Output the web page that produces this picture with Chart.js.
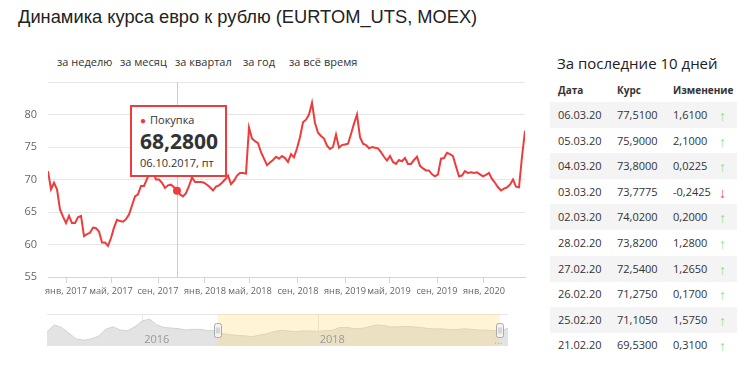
<!DOCTYPE html>
<html><head><meta charset="utf-8">
<script src="https://cdn.jsdelivr.net/npm/chart.js@4.4.1/dist/chart.umd.min.js"></script>
<style>
html,body{margin:0;padding:0;background:#fff;}
body{width:750px;height:378px;position:relative;overflow:hidden;font-family:"Open Sans",Arial,sans-serif;color:#333;}
#title{position:absolute;left:18px;top:6px;font-family:"Liberation Sans",Arial,sans-serif;font-size:18.3px;color:#222;white-space:nowrap;}
.per{position:absolute;top:54px;font-size:11px;color:#333;white-space:nowrap;}
#mainWrap{position:absolute;left:0;top:0;width:540px;height:300px;}
#navWrap{position:absolute;left:0;top:310px;width:540px;height:40px;}
#tip{position:absolute;background:#fff;border:2px solid #ee3b3b;padding:5px 7px 4px 8px;white-space:nowrap;box-sizing:border-box;}
#tip .nm{font-size:11px;color:#333;line-height:16px;}
#tip .nm b{color:#ee3b3b;font-size:10px;margin-right:4px;font-weight:normal;}
#tip .val{font-size:21px;font-weight:bold;color:#333;line-height:26px;}
#tip .dt{font-size:11px;color:#333;line-height:17px;}
#sideTitle{position:absolute;left:557px;top:53px;font-size:15px;color:#222;white-space:nowrap;}
.hd{position:absolute;top:83px;font-size:10px;font-weight:bold;color:#333;}
.row{position:absolute;left:550px;width:187px;height:26px;}
.row.g{background:#f4f4f4;}
.cell{position:absolute;top:0;line-height:26px;font-size:11px;color:#333;white-space:nowrap;}
.arr{font-size:14px;top:1px;}
.up{color:#86e086;}
.dn{color:#e84848;}
</style>
</head><body>
<div id="title">Динамика курса евро к рублю (EURTOM_UTS, MOEX)</div>
<div id="periods"></div>
<div id="mainWrap"><canvas id="main"></canvas></div>
<div id="navWrap"><canvas id="nav"></canvas></div>
<div id="tip"></div>
<div id="side"></div>
<script>
// ---- data ----
const periodLabels = ['за неделю','за месяц','за квартал','за год','за всё время'];
const seriesName = 'Покупка';
const mainValues = [
71.3,68.5,69.5,68.5,65.4,64.3,63.3,64.4,63.3,63.3,
64.2,64.4,61.3,61.6,61.8,62.6,62.5,62.0,60.3,60.3,
59.8,61.0,62.6,63.8,63.6,63.5,63.9,64.6,66.0,67.4,
67.7,69.0,69.0,70.1,71.0,71.1,70.0,70.0,69.5,68.7,
69.1,69.2,68.8,68.28,67.7,67.4,67.9,69.0,70.3,69.6,
69.6,69.6,69.5,69.2,68.8,68.3,68.9,69.1,69.5,70.0,
70.6,69.3,69.8,70.6,71.0,71.0,70.9,78.0,76.3,75.9,
75.6,74.2,73.2,72.2,72.6,73.0,73.5,73.2,73.6,73.3,
72.7,73.9,73.4,74.8,76.5,78.8,79.2,80.0,81.8,78.7,
77.2,76.7,76.3,75.2,74.7,75.0,76.9,74.9,75.3,75.4,
75.5,77.0,78.6,80.0,76.5,75.5,75.3,74.8,75.0,74.9,
74.8,74.2,73.5,72.9,73.6,72.7,72.4,73.0,72.8,73.3,
72.4,72.4,73.0,73.5,72.1,71.7,71.4,71.4,70.8,70.5,
70.8,73.2,73.3,74.1,73.9,73.6,72.0,70.5,70.6,71.3,
71.0,71.1,71.0,71.1,70.8,70.5,70.7,71.0,70.1,69.5,
68.8,68.3,68.6,68.8,69.2,70.0,68.9,68.8,73.5,77.5
];
const xTickIndex = [6,21,36.67,52.33,67.33,83.33,99,113.67,129.67,145.33];
const xTickLabels = ['янв, 2017','май, 2017','сен, 2017','янв, 2018','май, 2018','сен, 2018','янв, 2019','май, 2019','сен, 2019','янв, 2020'];
const yTicks = [55,60,65,70,75,80,85];
const activeIndex = 43;
const activeValueText = '68,2800';
const activeDate = '06.10.2017, пт';

// navigator: monthly, Dec 2014 .. Mar 2020
const navValues = [
68,79,75,66,57,55,57,61,72,76,71,70,76,
85,88,79,75,74,73,71,72,72,70,70,65.5,
63.5,62.5,62,60.5,63,65,68.5,70.5,69.5,68.5,69.5,69.5,
69,70,70.5,75,75,73,73.3,76,79,78,75.5,76,
76.5,76,75,73.5,72.6,72.8,71.7,71.5,73,72,71,70.8,
70.3,68.8,74
];
const navYearIndex = [13,37];
const navYearLabels = ['2016','2018'];
const navSelStart = 23.3, navSelEnd = 61.9;

const tableTitle = 'За последние 10 дней';
const tableHead = ['Дата','Курс','Изменение'];
const tableDates = ['06.03.20','05.03.20','04.03.20','03.03.20','02.03.20','28.02.20','27.02.20','26.02.20','25.02.20','21.02.20'];
const tableRates = ['77,5100','75,9000','73,8000','73,7775','74,0200','73,8200','72,5400','71,2750','71,1050','69,5300'];
const tableChanges = ['1,6100','2,1000','0,0225','-0,2425','0,2000','1,2800','1,2650','0,1700','1,5750','0,3100'];

// ---- periods ----
const perLeft = [57,120,175,243,289];
const perEl = document.getElementById('periods');
periodLabels.forEach((t,i)=>{const s=document.createElement('span');s.className='per';s.style.left=perLeft[i]+'px';s.textContent=t;perEl.appendChild(s);});

// ---- side table ----
const side = document.getElementById('side');
side.innerHTML = '<div id="sideTitle">'+tableTitle+'</div>';
const colLeft = [558,617,673];
tableHead.forEach((t,i)=>{const d=document.createElement('div');d.className='hd';d.style.left=colLeft[i]+'px';d.textContent=t;side.appendChild(d);});
tableDates.forEach((dt,i)=>{
  const r=document.createElement('div');r.className='row'+(i%2===0?' g':'');r.style.top=(102+i*25.6)+'px';
  const neg = tableChanges[i].trim().startsWith('-');
  const vals=[dt,tableRates[i],tableChanges[i]];
  vals.forEach((v,j)=>{const c=document.createElement('div');c.className='cell';c.style.left=(colLeft[j]-550)+'px';c.textContent=v;r.appendChild(c);});
  const a=document.createElement('div');a.className='cell arr '+(neg?'dn':'up');a.style.left='169px';a.textContent=neg?'↓':'↑';r.appendChild(a);
  side.appendChild(r);
});

// ---- main chart ----
const RED = '#ee3b3b';
const tip = document.getElementById('tip');
tip.innerHTML = '<div class="nm"><b>●</b>'+seriesName+'</div><div class="val">'+activeValueText+'</div><div class="dt">'+activeDate+'</div>';

const crosshair = {
  id:'crosshair',
  beforeDatasetsDraw(chart){
    const pt = chart.getDatasetMeta(0).data[activeIndex];
    const c = chart.ctx, a = chart.chartArea;
    c.save(); c.strokeStyle='#cccccc'; c.lineWidth=1;
    const x = Math.round(pt.x)+0.5;
    c.beginPath(); c.moveTo(x,a.top); c.lineTo(x,a.bottom); c.stroke(); c.restore();
  },
  afterDraw(chart){
    const pt = chart.getDatasetMeta(0).data[activeIndex];
    tip.style.left = Math.round(pt.x - tip.offsetWidth/2 + 1)+'px';
    tip.style.top = Math.round(pt.y - 14 - tip.offsetHeight)+'px';
  }
};

new Chart(document.getElementById('main'), {
  type:'line',
  data:{datasets:[{
    label:seriesName,
    data: mainValues.map((v,i)=>({x:i,y:v})),
    borderColor:RED, borderWidth:2, tension:0,
    pointRadius: c => c.dataIndex===activeIndex ? 4 : 0,
    pointBackgroundColor:RED, pointBorderWidth:0
  }]},
  options:{
    responsive:true, maintainAspectRatio:false, animation:false, events:[],
    layout:{padding:{top:82,right:15,left:0,bottom:0}},
    plugins:{legend:{display:false},tooltip:{enabled:false}},
    scales:{
      x:{type:'linear',min:0,max:mainValues.length-1,
        afterBuildTicks:s=>{s.ticks = xTickIndex.map(v=>({value:v}));},
        ticks:{callback:(v,i)=>xTickLabels[i],autoSkip:false,maxRotation:0,minRotation:0,
          font:{family:'Open Sans',size:9.2},color:'#666',padding:3},
        grid:{drawOnChartArea:false,drawTicks:true,tickLength:6,color:'#ccd6eb'},
        border:{color:'#ccd6eb'},
        afterFit:s=>{s.height=23;}
      },
      y:{min:55,max:85,
        afterBuildTicks:s=>{s.ticks = yTicks.map(v=>({value:v}));},
        ticks:{callback:v=> v===85 ? '' : String(v),font:{family:'Open Sans',size:11},color:'#666',padding:11},
        grid:{color:c=> (c.tick && c.tick.value===55) ? 'rgba(0,0,0,0)' : '#e6e6e6',drawTicks:false},
        border:{display:false},
        afterFit:s=>{s.width=48;}
      }
    }
  },
  plugins:[crosshair]
});

// ---- navigator ----
const navPlugin = {
  id:'navdeco',
  beforeDatasetsDraw(chart){
    const c=chart.ctx,a=chart.chartArea,xs=chart.scales.x;
    c.save(); c.strokeStyle='#e6e6e6'; c.lineWidth=1;
    navYearIndex.forEach(i=>{const x=Math.round(xs.getPixelForValue(i))+0.5;c.beginPath();c.moveTo(x,a.top);c.lineTo(x,a.bottom);c.stroke();});
    c.beginPath();c.moveTo(a.left,a.top+0.5);c.lineTo(a.right,a.top+0.5);c.stroke();
    c.restore();
  },
  afterDatasetsDraw(chart){
    const c=chart.ctx,a=chart.chartArea,xs=chart.scales.x;
    const x0=xs.getPixelForValue(navSelStart), x1=xs.getPixelForValue(navSelEnd);
    c.save();
    c.fillStyle='rgba(255,222,120,0.30)';
    c.fillRect(x0,a.top,x1-x0,a.bottom-a.top);
    c.font='11px "Open Sans"'; c.fillStyle='#999'; c.textBaseline='middle'; c.textAlign='left';
    navYearIndex.forEach((i,k)=>{c.fillText(navYearLabels[k], xs.getPixelForValue(i)+2, a.top+26);});
    c.fillStyle='#bbb'; c.fillText('…', x1-6, a.top+27);
    [x0,x1].forEach(x=>{
      const w=7,h=14,hx=Math.round(x-w/2)+0.5,hy=Math.round(a.top+9)+0.5;
      c.fillStyle='#f2f2f2'; c.strokeStyle='#aaa'; c.lineWidth=1;
      c.beginPath(); c.roundRect(hx,hy,w,h,2); c.fill(); c.stroke();
      c.beginPath(); c.moveTo(hx+2.5,hy+4); c.lineTo(hx+2.5,hy+h-4); c.moveTo(hx+4.5,hy+4); c.lineTo(hx+4.5,hy+h-4); c.strokeStyle='#bbb'; c.stroke();
    });
    c.restore();
  }
};
new Chart(document.getElementById('nav'), {
  type:'line',
  data:{datasets:[{data:navValues.map((v,i)=>({x:i,y:v})),borderColor:'#d2d2d2',borderWidth:1,backgroundColor:'#e3e3e3',fill:'start',pointRadius:0,tension:0}]},
  options:{responsive:true,maintainAspectRatio:false,animation:false,events:[],
    layout:{padding:{left:47,right:32,top:4,bottom:4}},
    plugins:{legend:{display:false},tooltip:{enabled:false}},
    scales:{x:{type:'linear',display:false,min:0,max:navValues.length-1},y:{display:false,min:46,max:96}}
  },
  plugins:[navPlugin]
});
</script>
</body></html>
